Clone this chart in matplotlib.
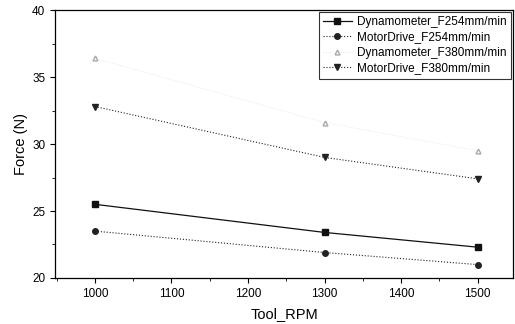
import matplotlib
matplotlib.use("Agg")
import matplotlib.pyplot as plt
from matplotlib.ticker import MultipleLocator

rpm = [1000, 1300, 1500]
dyn_f254 = [25.5, 23.4, 22.3]
motor_f254 = [23.5, 21.9, 21.0]
dyn_f380 = [36.4, 31.6, 29.5]
motor_f380 = [32.8, 29.0, 27.4]
labels = ["Dynamometer_F254mm/min", "MotorDrive_F254mm/min",
          "Dynamometer_F380mm/min", "MotorDrive_F380mm/min"]

plt.rcParams['font.family'] = ['Liberation Sans', 'DejaVu Sans']
fig = plt.figure(figsize=(5.15, 3.24), dpi=100)
ax = fig.add_axes([0.107, 0.142, 0.889, 0.827])

ax.plot(rpm, dyn_f254, '-', color='#111111', lw=0.9, marker='s', ms=4.5, label=labels[0])
ax.plot(rpm, motor_f254, ':', color='#222222', lw=0.8, marker='o', ms=4, label=labels[1])
ax.plot(rpm, dyn_f380, ':', color='#e4e4e4', lw=0.6, marker='^', ms=3.5, mfc='white', mec='#aaaaaa', label=labels[2])
ax.plot(rpm, motor_f380, ':', color='#222222', lw=0.8, marker='v', ms=5, label=labels[3])

ax.set_xlim(948, 1546)
ax.set_ylim(20, 40)
ax.xaxis.set_major_locator(MultipleLocator(100))
ax.xaxis.set_minor_locator(MultipleLocator(50))
ax.yaxis.set_major_locator(MultipleLocator(5))
ax.yaxis.set_minor_locator(MultipleLocator(2.5))
ax.tick_params(which='major', direction='out', length=3.5, width=0.8, labelsize=8.5)
ax.tick_params(which='minor', direction='out', length=2, width=0.6)
for s in ax.spines.values():
    s.set_linewidth(0.9)
ax.set_xlabel("Tool_RPM", fontsize=10.5, labelpad=5)
ax.set_ylabel("Force (N)", fontsize=10.5, labelpad=3)

leg = ax.legend(loc='upper right', fontsize=8.5, frameon=True, fancybox=False,
                edgecolor='black', handlelength=2.4, borderpad=0.35,
                labelspacing=0.3, handletextpad=0.5, borderaxespad=0.15)
leg.get_frame().set_linewidth(0.8)

fig.savefig("out.png", dpi=100)
